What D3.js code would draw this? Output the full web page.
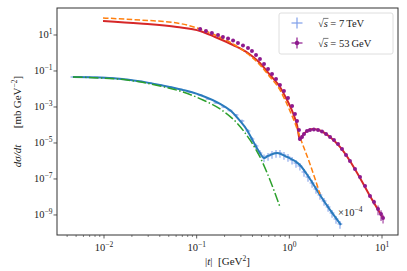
<!DOCTYPE html>
<html>
 <head>
  <meta charset="utf-8" />
  <title>Elastic dsigma/dt</title>
  <script src="https://cdn.jsdelivr.net/npm/d3@7"></script>
  <style>
   body { margin: 0; background: #fff; }
   text { font-family: "Liberation Serif", "DejaVu Serif", serif; fill: #222; }
  </style>
 </head>

 <body>
  <script>
    // 7 TeV data (drawn with factor 1e-4)
    var t7  = [0.00463,0.00551,0.00672,0.0082,0.01,0.0122,0.0149,0.0191,0.0244,0.0313,
               0.0402,0.0515,0.0661,0.0848,0.109,0.133,0.162,0.197,0.229,0.266,
               0.308,0.358,0.395,0.437,0.482,0.533,0.589,0.65,0.718,0.792,
               0.875,0.967,1.07,1.18,1.3,1.44,1.59,1.76,1.94,2.14,
               2.37,2.62,2.89,3.19,3.52];
    var ds7 = [464,464,453,441,425,403,374,316,261,215,
               167,129,96,68,46.4,27.8,16.7,10,6.4,3.59,
               1.67,0.464,0.167,0.068,0.0278,0.0156,0.019,0.0245,0.0278,0.0278,
               0.0215,0.0167,0.0114,0.0077,0.0053,0.00245,0.00129,0.0006,0.000278,0.000129,
               6e-5,2.78e-5,1.29e-5,6e-6,3.16e-6];
    var err7 = [0.05,0.05,0.05,0.05,0.05,0.05,0.05,0.05,0.05,0.05,
                0.05,0.05,0.05,0.05,0.06,0.07,0.08,0.1,0.12,0.15,
                0.2,0.25,0.3,0.35,0.4,0.45,0.45,0.45,0.45,0.45,
                0.45,0.45,0.45,0.45,0.45,0.45,0.45,0.45,0.45,0.45,
                0.45,0.45,0.45,0.45,0.45];

    // 53 GeV data
    var t53  = [0.109,0.126,0.146,0.17,0.192,0.218,0.247,0.279,0.316,0.358,
                0.395,0.437,0.482,0.533,0.589,0.65,0.718,0.792,0.875,0.967,
                1.07,1.15,1.21,1.27,1.3,1.37,1.44,1.55,1.67,1.84,
                2.04,2.25,2.49,2.75,3.03,3.35,3.7,4.09,4.51,5.11,
                5.79,6.56,7.42,8.2,9.06,9.76,10.26];
    var ds53 = [21.5,16.7,12.9,10,7.74,6.4,4.95,3.59,2.61,1.9,
                1.29,0.774,0.464,0.245,0.129,0.068,0.036,0.0167,0.0077,0.0032,
                0.00114,0.00041,0.000167,5.3e-5,1.67e-5,2.15e-5,3.16e-5,4.64e-5,5.3e-5,5.6e-5,
                5.3e-5,4.4e-5,3.16e-5,2.15e-5,1.47e-5,8.8e-6,4.6e-6,2.15e-6,1e-6,3.6e-7,
                1.29e-7,4.1e-8,1.14e-8,5.3e-9,2.15e-9,1.14e-9,6.8e-10];
    var err53 = [0.06,0.06,0.06,0.06,0.06,0.06,0.06,0.06,0.06,0.06,
                 0.06,0.06,0.06,0.06,0.06,0.06,0.06,0.06,0.06,0.06,
                 0.06,0.06,0.06,0.06,0.06,0.06,0.06,0.06,0.06,0.06,
                 0.06,0.06,0.06,0.06,0.06,0.06,0.06,0.06,0.08,0.1,
                 0.1,0.12,0.15,0.3,0.55,0.6,0.5];

    // model curves
    var tBlue  = [0.00463,0.00906,0.0177,0.0402,0.0712,0.109,0.179,0.247,0.294,0.349,
                  0.405,0.482,0.533,0.589,0.737,0.944,1.3,1.67,2.14,2.75,3.61];
    var dsBlue = [464,435,337,167,88,46.4,14.7,4.64,1.67,0.53,
                  0.129,0.0278,0.0147,0.019,0.0278,0.0167,0.006,0.001,0.000129,1.9e-5,2.78e-6];
    var tGreen  = [0.00463,0.00906,0.0177,0.0402,0.0712,0.117,0.179,0.272,0.376,0.482,0.618,0.792];
    var dsGreen = [464,408,316,146,68,24.5,7.74,1.29,0.147,0.0167,0.00088,2.8e-5];
    var tRed  = [0.00976,0.0245,0.0613,0.109,0.158,0.247,0.358,0.482,0.618,0.792,
                 0.944,1.095,1.21,1.3,1.4,1.55,1.8,2.14,2.75,3.52,
                 4.51,5.79,7.42,10.26];
    var dsRed = [60,43.5,27.8,16.7,7.74,2.78,1.0,0.278,0.06,0.0129,
                 0.00245,0.000464,0.0001,1.47e-5,2.78e-5,4.64e-5,6e-5,4.95e-5,2.15e-5,6e-6,
                 1e-6,1.14e-7,1.14e-8,6.8e-10];
    var tOrange  = [0.00976,0.0245,0.0613,0.109,0.158,0.247,0.358,0.482,0.618,0.792,
                    0.898,1.016,1.15,1.3,1.67,2.14];
    var dsOrange = [88,68,46.4,21.5,10,3.16,0.88,0.215,0.0464,0.0088,
                    0.00245,0.0006,0.000129,2.15e-5,6.8e-7,1.47e-8];

    var scale7 = 1e-4;
    var xTicks = [1e-2, 1e-1, 1e0, 1e1], xExp = ["\u22122", "\u22121", "0", "1"];
    var yTicks = [1e1, 1e-1, 1e-3, 1e-5, 1e-7, 1e-9], yExp = ["1", "\u22121", "\u22123", "\u22125", "\u22127", "\u22129"];

    var w = 407, h = 271,
        L = 57, R = 398, T = 8, B = 235;

    var x = d3.scaleLog().domain([3.11e-3, 14.88]).range([L, R]),
        y = d3.scaleLog().domain([7.7e-11, 316]).range([B, T]);

    var svg = d3.select("body").append("svg")
        .attr("width", w).attr("height", h);

    var plot = svg.append("g");

    function zip(ts, vs, f) {
      return ts.map(function(t, i) { return {t: t, v: vs[i] * f}; });
    }

    var line = d3.line()
        .x(function(d) { return x(d.t); })
        .y(function(d) { return y(d.v); })
        .curve(d3.curveMonotoneX);

    // 7 TeV data crosses
    var d7 = t7.map(function(t, i) { return {t: t, v: ds7[i] * scale7, e: err7[i]}; });
    var g7 = plot.append("g").attr("stroke", "#6f93e6").attr("stroke-opacity", 0.6).attr("stroke-width", 1.6);
    g7.selectAll("line.v").data(d7).enter().append("line")
        .attr("x1", function(d) { return x(d.t); })
        .attr("x2", function(d) { return x(d.t); })
        .attr("y1", function(d) { return y(d.v * (1 + d.e)); })
        .attr("y2", function(d) { return y(d.v * (1 - d.e)); });
    g7.selectAll("line.h").data(d7).enter().append("line")
        .attr("x1", function(d) { return x(d.t * 0.94); })
        .attr("x2", function(d) { return x(d.t * 1.06); })
        .attr("y1", function(d) { return y(d.v); })
        .attr("y2", function(d) { return y(d.v); });

    plot.append("path").datum(zip(tBlue, dsBlue, scale7))
        .attr("d", line).attr("fill", "none")
        .attr("stroke", "#2a7bbd").attr("stroke-width", 2);

    plot.append("path").datum(zip(tGreen, dsGreen, scale7))
        .attr("d", line).attr("fill", "none")
        .attr("stroke", "#2ca02c").attr("stroke-width", 1.5)
        .attr("stroke-dasharray", "9.6,2.4,1.5,2.4");

    plot.append("path").datum(zip(tRed, dsRed, 1))
        .attr("d", line).attr("fill", "none")
        .attr("stroke", "#d62728").attr("stroke-width", 2);

    plot.append("path").datum(zip(tOrange, dsOrange, 1))
        .attr("d", line).attr("fill", "none")
        .attr("stroke", "#ff7f0e").attr("stroke-width", 1.5)
        .attr("stroke-dasharray", "5.5,2.4");

    // 53 GeV data
    var d53 = t53.map(function(t, i) { return {t: t, v: ds53[i], e: err53[i]}; });
    var g53 = plot.append("g").attr("stroke", "#8e1a8e").attr("stroke-opacity", 0.8).attr("stroke-width", 1.2);
    g53.selectAll("line.v").data(d53).enter().append("line")
        .attr("x1", function(d) { return x(d.t); })
        .attr("x2", function(d) { return x(d.t); })
        .attr("y1", function(d) { return y(d.v * (1 + d.e)); })
        .attr("y2", function(d) { return y(d.v * (1 - d.e)); });
    g53.selectAll("line.h").data(d53).enter().append("line")
        .attr("x1", function(d) { return x(d.t * 0.98); })
        .attr("x2", function(d) { return x(d.t * 1.02); })
        .attr("y1", function(d) { return y(d.v); })
        .attr("y2", function(d) { return y(d.v); });
    plot.append("g").selectAll("circle").data(d53).enter().append("circle")
        .attr("cx", function(d) { return x(d.t); })
        .attr("cy", function(d) { return y(d.v); })
        .attr("r", 2)
        .attr("fill", "#8e1a8e");

    // axes box
    svg.append("rect")
        .attr("x", L).attr("y", T).attr("width", R - L).attr("height", B - T)
        .attr("fill", "none").attr("stroke", "#333").attr("stroke-width", 1);

    var minor = x.ticks().filter(function(v) {
      var l = Math.log10(v); return Math.abs(l - Math.round(l)) > 1e-6;
    });
    svg.append("g").selectAll("line").data(minor).enter().append("line")
        .attr("x1", function(d) { return x(d); }).attr("x2", function(d) { return x(d); })
        .attr("y1", B).attr("y2", B + 2).attr("stroke", "#333").attr("stroke-width", 0.6);
    svg.append("g").selectAll("line").data(xTicks).enter().append("line")
        .attr("x1", function(d) { return x(d); }).attr("x2", function(d) { return x(d); })
        .attr("y1", B).attr("y2", B + 3.5).attr("stroke", "#333").attr("stroke-width", 0.8);
    svg.append("g").selectAll("line").data(yTicks).enter().append("line")
        .attr("x1", L - 3.5).attr("x2", L)
        .attr("y1", function(d) { return y(d); }).attr("y2", function(d) { return y(d); })
        .attr("stroke", "#333").attr("stroke-width", 0.8);

    function powLabel(sel, e) {
      sel.append("tspan").text("10");
      sel.append("tspan").attr("dy", -4.5).style("font-size", "7.5px").text(e);
    }

    svg.append("g").selectAll("text").data(xTicks).enter().append("text")
        .attr("x", function(d) { return x(d); }).attr("y", 251)
        .attr("text-anchor", "middle").style("font-size", "10.5px")
        .each(function(d, i) { powLabel(d3.select(this), xExp[i]); });

    svg.append("g").selectAll("text").data(yTicks).enter().append("text")
        .attr("x", L - 4.5).attr("y", function(d) { return y(d) + 3.5; })
        .attr("text-anchor", "end").style("font-size", "10.5px")
        .each(function(d, i) { powLabel(d3.select(this), yExp[i]); });

    // axis labels
    var xl = svg.append("text").attr("x", (L + R) / 2).attr("y", 265)
        .attr("text-anchor", "middle").style("font-size", "11px");
    xl.append("tspan").text("|");
    xl.append("tspan").style("font-style", "italic").text("t");
    xl.append("tspan").text("|\u2002[GeV");
    xl.append("tspan").attr("dy", -4).style("font-size", "7.5px").text("2");
    xl.append("tspan").attr("dy", 4).text("]");

    var yl = svg.append("text")
        .attr("transform", "translate(21," + ((T + B) / 2) + ") rotate(-90)")
        .attr("text-anchor", "middle").style("font-size", "11px");
    yl.append("tspan").style("font-style", "italic").text("d\u03c3/dt");
    yl.append("tspan").text("\u2003\u2002[mb\u2009GeV");
    yl.append("tspan").attr("dy", -4).style("font-size", "7.5px").text("\u22122");
    yl.append("tspan").attr("dy", 4).text("]");

    var sc = svg.append("text").attr("x", 338).attr("y", 216).style("font-size", "10.5px");
    sc.append("tspan").text("\u00d710");
    sc.append("tspan").attr("dy", -4.5).style("font-size", "7.5px").text("\u22124");

    // legend
    var leg = svg.append("g");
    leg.append("rect").attr("x", 279).attr("y", 13).attr("width", 114).attr("height", 41)
        .attr("rx", 2).attr("fill", "#fff").attr("fill-opacity", 0.8)
        .attr("stroke", "#d6d6d6").attr("stroke-width", 0.8);

    function cross(cx, cy, col, dot) {
      leg.append("line").attr("x1", cx - 5.5).attr("x2", cx + 5.5).attr("y1", cy).attr("y2", cy)
          .attr("stroke", col).attr("stroke-width", 1.2);
      leg.append("line").attr("x1", cx).attr("x2", cx).attr("y1", cy - 5.5).attr("y2", cy + 5.5)
          .attr("stroke", col).attr("stroke-width", 1.2);
      if (dot) leg.append("circle").attr("cx", cx).attr("cy", cy).attr("r", 2.2).attr("fill", col);
    }

    function sqrtLabel(x0, y0, rest) {
      var r = leg.append("text").attr("x", x0).attr("y", y0).style("font-size", "10.5px").text("\u221a");
      var w1 = r.node().getComputedTextLength();
      var s = leg.append("text").attr("x", x0 + w1).attr("y", y0)
          .style("font-size", "10.5px").style("font-style", "italic").text("s");
      var w2 = s.node().getComputedTextLength();
      leg.append("line").attr("x1", x0 + w1 - 0.6).attr("x2", x0 + w1 + w2 + 0.6)
          .attr("y1", y0 - 8.6).attr("y2", y0 - 8.6).attr("stroke", "#222").attr("stroke-width", 0.6);
      leg.append("text").attr("x", x0 + w1 + w2 + 2.5).attr("y", y0)
          .style("font-size", "10.5px").text(rest);
    }

    cross(297, 23, "#7f9fea", false);
    cross(297, 43, "#8e1a8e", true);
    sqrtLabel(318, 27, "= 7\u2009TeV");
    sqrtLabel(318, 47, "= 53\u2009GeV");
  </script>
 </body>
</html>
